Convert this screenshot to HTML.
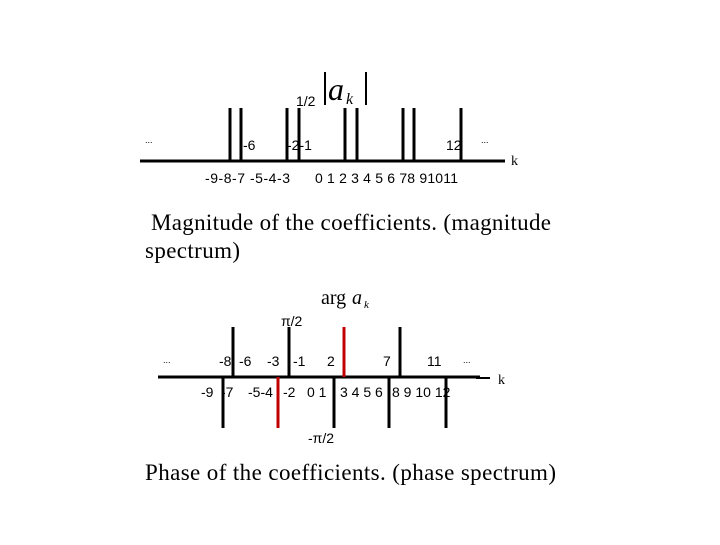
<!DOCTYPE html>
<html><head><style>
body{margin:0;background:#fff;}
svg text{font-family:"Liberation Sans",sans-serif;font-size:14px;fill:#000;}
.s{font-family:"Liberation Serif",serif;}
</style></head><body>
<svg width="720" height="540" xmlns="http://www.w3.org/2000/svg">
<g stroke="#000" stroke-width="3">
<line x1="140" y1="161" x2="505" y2="161"/>
<line x1="230" y1="108" x2="230" y2="161"/>
<line x1="241" y1="108" x2="241" y2="161"/>
<line x1="287" y1="108" x2="287" y2="161"/>
<line x1="299" y1="108" x2="299" y2="161"/>
<line x1="345" y1="108" x2="345" y2="161"/>
<line x1="357" y1="108" x2="357" y2="161"/>
<line x1="403" y1="108" x2="403" y2="161"/>
<line x1="414" y1="108" x2="414" y2="161"/>
<line x1="461" y1="108" x2="461" y2="161"/>
<line x1="325" y1="72" x2="325" y2="105" stroke-width="2"/>
<line x1="366" y1="72" x2="366" y2="105" stroke-width="2"/>
</g>
<text x="296" y="106">1/2</text>
<text x="328" y="100" class="s" style="font-size:32px;font-style:italic">a</text>
<text x="346" y="104" class="s" style="font-size:16px;font-style:italic">k</text>
<text x="145" y="143" style="font-size:9px">...</text>
<text x="243" y="150">-6</text>
<text x="287" y="150">-2-1</text>
<text x="446" y="150">12</text>
<text x="481" y="143" style="font-size:9px">...</text>
<text x="511" y="165" class="s">k</text>
<text x="205" y="183" textLength="85">-9-8-7 -5-4-3</text>
<text x="315" y="183" textLength="143">0 1 2 3 4 5 6 78 91011</text>
<text x="151" y="230" class="s" style="font-size:23px" textLength="400">Magnitude of the coefficients. (magnitude</text>
<text x="145" y="258" class="s" style="font-size:23px" textLength="95">spectrum)</text>

<text x="321" y="304" class="s" style="font-size:20px">arg</text>
<text x="352" y="304" class="s" style="font-size:20px;font-style:italic">a</text>
<text x="364" y="308" class="s" style="font-size:11px;font-style:italic">k</text>
<g stroke="#000" stroke-width="3">
<line x1="158" y1="377" x2="480" y2="377"/>
<line x1="476" y1="378" x2="490" y2="378" stroke-width="2"/>
<line x1="233" y1="327" x2="233" y2="377"/>
<line x1="289" y1="327" x2="289" y2="377"/>
<line x1="400" y1="327" x2="400" y2="377"/>
<line x1="223" y1="377" x2="223" y2="428"/>
<line x1="334" y1="377" x2="334" y2="428"/>
<line x1="389" y1="377" x2="389" y2="428"/>
<line x1="446" y1="377" x2="446" y2="428"/>
</g>
<g stroke="#c00000" stroke-width="3">
<line x1="344" y1="327" x2="344" y2="377"/>
<line x1="278" y1="377" x2="278" y2="428"/>
</g>
<text x="281" y="326">π/2</text>
<text x="163" y="363" style="font-size:9px">...</text>
<text x="219" y="366">-8</text>
<text x="239" y="366">-6</text>
<text x="267" y="366">-3</text>
<text x="293" y="366">-1</text>
<text x="327" y="366">2</text>
<text x="383" y="366">7</text>
<text x="427" y="366">11</text>
<text x="463" y="363" style="font-size:9px">...</text>
<text x="498" y="384" class="s">k</text>
<text x="201" y="397">-9</text>
<text x="221" y="397">-7</text>
<text x="248" y="397">-5-4</text>
<text x="283" y="397">-2</text>
<text x="307" y="397">0 1</text>
<text x="340" y="397">3 4 5 6</text>
<text x="392" y="397">8 9 10 12</text>
<text x="308" y="443">-π/2</text>
<text x="145" y="480" class="s" style="font-size:23px" textLength="411">Phase of the coefficients. (phase spectrum)</text>
</svg>
</body></html>
